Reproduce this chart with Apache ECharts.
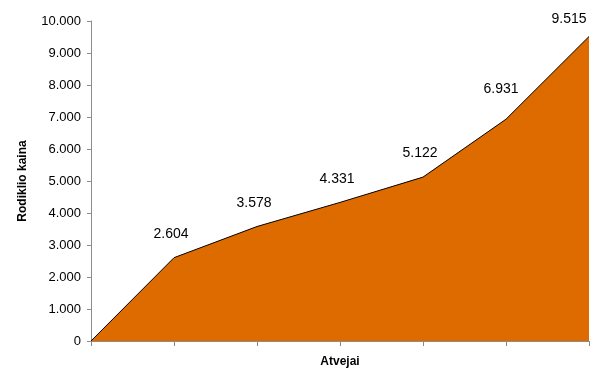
<!DOCTYPE html>
<html><head><meta charset="utf-8">
<script src="https://cdn.jsdelivr.net/npm/echarts@6/dist/echarts.min.js"></script>
<style>html,body{margin:0;padding:0;background:#fff}#c{width:594px;height:370px}</style>
</head><body><div id="c"></div>
<script>
const categories = ['1','2','3','4','5','6','7'];
const values = [0, 2604, 3578, 4331, 5122, 6931, 9515];
const yTicks = [0,1000,2000,3000,4000,5000,6000,7000,8000,9000,10000];

function fmt(v){ return String(Math.round(v)).replace(/\B(?=(\d{3})+(?!\d))/g,'.'); }

const data = values.map((v,i)=>{
  const d = {value:v};
  if(i===0) d.label={show:false};
  if(i===5) d.label={offset:[-5,-7]};
  if(i===values.length-1) d.label={offset:[-20,6]};
  return d;
});

const chart = echarts.init(document.getElementById('c'));
chart.setOption({
  animation:false,
  grid:{left:91,right:5,top:21,bottom:29,outerBoundsMode:'none',containLabel:false},
  xAxis:{type:'category',data:categories,boundaryGap:false,
    name:'Atvejai',nameLocation:'middle',nameGap:15,
    nameTextStyle:{fontFamily:'Liberation Sans, Arial',fontWeight:'bold',fontSize:12,color:'#000'},
    axisLine:{lineStyle:{color:'#8c8c8c',width:1}},
    axisTick:{show:true,length:5,lineStyle:{color:'#8c8c8c'}},
    axisLabel:{show:false},splitLine:{show:false}},
  yAxis:{type:'value',min:0,max:10000,interval:1000,
    name:'Rodiklio kaina',nameLocation:'middle',nameGap:62,
    nameTextStyle:{fontFamily:'Liberation Sans, Arial',fontWeight:'bold',fontSize:12,color:'#000'},
    axisLine:{show:true,lineStyle:{color:'#8c8c8c',width:1}},
    axisTick:{show:true,length:4,lineStyle:{color:'#8c8c8c'}},
    axisLabel:{fontFamily:'Liberation Sans, Arial',fontSize:13,color:'#000',margin:10,formatter:fmt},
    splitLine:{show:false}},
  series:[{type:'line',data:data,symbol:'circle',symbolSize:1,showSymbol:true,
    itemStyle:{color:'rgba(0,0,0,0)',borderWidth:0},
    lineStyle:{color:'#000',width:1},
    areaStyle:{color:'#DD6B00',opacity:1},
    label:{show:true,position:'top',distance:16,offset:[-3,0],fontFamily:'Liberation Sans, Arial',fontSize:14,color:'#000',
      formatter:p=>fmt(p.value)}}]
});
</script></body></html>
